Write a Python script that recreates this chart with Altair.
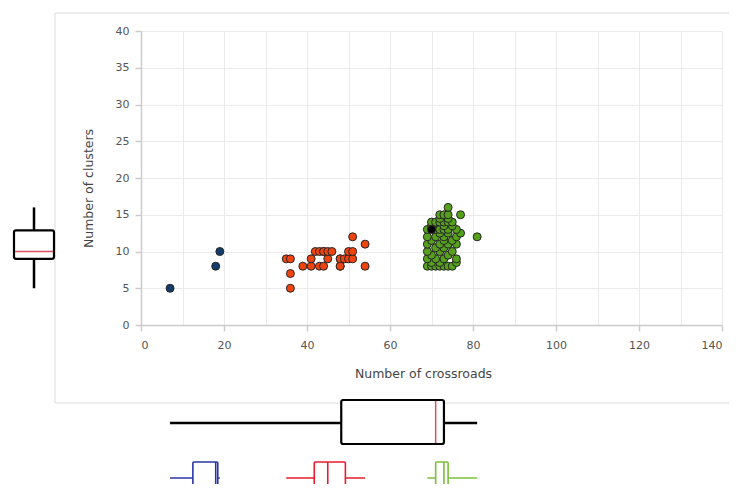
import altair as alt
import pandas as pd

# ---- data ----
blue_x = [7, 18, 19]
blue_y = [5, 8, 10]

red_x = [35, 36, 36, 36, 39, 41, 41, 42, 43, 43, 44, 44, 44, 45, 45, 46,
         48, 48, 48, 48, 49, 50, 50, 51, 51, 51, 54, 54]
red_y = [9, 9, 7, 5, 8, 8, 9, 10, 10, 8, 10, 10, 8, 9, 10, 10,
         9, 8, 9, 8, 9, 9, 10, 9, 10, 12, 11, 8]

green_x = [69, 70, 71, 72, 73, 74, 75,
           70, 72, 76,
           69, 71, 73, 76,
           70, 74,
           69, 72, 75,
           71, 73,
           69, 72, 74, 76,
           70, 73, 75,
           69, 71, 73, 76, 81,
           72, 74, 77,
           69, 71, 72, 73, 74, 76,
           70, 73, 75,
           70, 71, 72, 73, 74, 75,
           72, 74,
           72, 73, 74, 77,
           74]
green_y = [8, 8, 8, 8, 8, 8, 8,
           8.5, 8.5, 8.5,
           9, 9, 9, 9,
           9.5, 9.5,
           10, 10, 10,
           10.5, 10.5,
           11, 11, 11, 11,
           11.5, 11.5, 11.5,
           12, 12, 12, 12, 12,
           12.5, 12.5, 12.5,
           13, 13, 13, 13, 13, 13,
           13.5, 13.5, 13.5,
           14, 14, 14, 14, 14, 14,
           14.5, 14.5,
           15, 15, 15, 15,
           16]

highlight_x = [70]
highlight_y = [13]

x_ticks = [0, 10, 20, 30, 40, 50, 60, 70, 80, 90, 100, 110, 120, 130, 140]
y_ticks = [0, 5, 10, 15, 20, 25, 30, 35, 40]

groups = ["A", "B", "C"]
point_colors = ["#123d6a", "#ee4410", "#56a01c"]
box_colors = ["#2b35a8", "#e51d2e", "#7cbf3c"]

rows = []
for gx, gy, g in [(blue_x, blue_y, "A"), (red_x, red_y, "B"), (green_x, green_y, "C")]:
    for a, b in zip(gx, gy):
        rows.append({"x": a, "y": b, "group": g, "sel": False})
for a, b in zip(highlight_x, highlight_y):
    rows.append({"x": a, "y": b, "group": "C", "sel": True})
df = pd.DataFrame(rows)

FONT = "DejaVu Sans"
xs = alt.Scale(domain=[0, 140], nice=False, zero=False)
ys = alt.Scale(domain=[0, 40], nice=False, zero=False)

xaxis = alt.Axis(
    values=x_ticks,
    labelExpr="datum.value % 20 === 0 ? datum.label : ''",
    tickOpacity={"condition": {"test": "datum.value % 20 !== 0", "value": 0}, "value": 1},
    title="Number of crossroads",
    titleX=282, titleY=48, titleBaseline="middle", titleAlign="center",
    grid=True, tickSize=6, labelPadding=8,
)
yaxis = alt.Axis(
    values=y_ticks,
    title="Number of clusters",
    titleX=-53, titleY=157, titleBaseline="middle", titleAlign="center", titleAngle=-90,
    grid=True, tickSize=6, labelPadding=6,
)

base = alt.Chart(df)

border = alt.Chart(alt.Data(values=[{}])).mark_rect(
    fill="white", fillOpacity=0, stroke="#dcdcdc", strokeWidth=1
).encode(x=alt.value(-86), x2=alt.value(640), y=alt.value(-18), y2=alt.value(372))

points = base.mark_circle(size=64, opacity=1, stroke="#262626", strokeWidth=1).encode(
    x=alt.X("x:Q", scale=xs, axis=xaxis),
    y=alt.Y("y:Q", scale=ys, axis=yaxis),
    color=alt.condition(
        "datum.sel",
        alt.value("black"),
        alt.Color("group:N", scale=alt.Scale(domain=groups, range=point_colors), legend=None),
    ),
)

# overall box along x (below the plot)
allx = base.transform_aggregate(
    xmn="min(x)", xq1="q1(x)", xmed="median(x)", xq3="q3(x)", xmx="max(x)"
)
allx_whisk = allx.mark_rule(color="black", strokeWidth=2.5).encode(
    x=alt.X("xmn:Q", scale=xs, axis=xaxis), x2="xmx:Q", y=alt.value(392)
)
allx_box = allx.mark_rect(fill="white", stroke="black", strokeWidth=2.2, cornerRadius=2).encode(
    x=alt.X("xq1:Q", scale=xs, axis=xaxis), x2="xq3:Q", y=alt.value(369), y2=alt.value(413)
)
allx_med = allx.mark_rule(color="#d9505e", strokeWidth=1.5).encode(
    x=alt.X("xmed:Q", scale=xs, axis=xaxis), y=alt.value(370), y2=alt.value(412)
)

# per-group boxes along x
grp = base.transform_filter("!datum.sel").transform_aggregate(
    gmn="min(x)", gq1="q1(x)", gmed="median(x)", gq3="q3(x)", gmx="max(x)", groupby=["group"]
)
stroke_enc = alt.Stroke("group:N", scale=alt.Scale(domain=groups, range=box_colors), legend=None)
grp_whisk = grp.mark_rule(strokeWidth=1.6).encode(
    x=alt.X("gmn:Q", scale=xs, axis=xaxis), x2="gmx:Q", y=alt.value(447), stroke=stroke_enc
)
grp_box = grp.mark_rect(fill="white", strokeWidth=1.6, cornerRadius=1).encode(
    x=alt.X("gq1:Q", scale=xs, axis=xaxis), x2="gq3:Q", y=alt.value(431), y2=alt.value(480),
    stroke=stroke_enc,
)
grp_med = grp.mark_rule(strokeWidth=1.6).encode(
    x=alt.X("gmed:Q", scale=xs, axis=xaxis), y=alt.value(431), y2=alt.value(480), stroke=stroke_enc
)

# overall box along y (left of the plot)
ally = base.transform_aggregate(
    ymn="min(y)", yq1="q1(y)", ymed="median(y)", yq3="q3(y)", ymx="max(y)"
)
ally_whisk = ally.mark_rule(color="black", strokeWidth=2.5).encode(
    y=alt.Y("ymn:Q", scale=ys, axis=yaxis), y2="ymx:Q", x=alt.value(-107)
)
ally_box = ally.mark_rect(fill="white", stroke="black", strokeWidth=2.2, cornerRadius=2).encode(
    y=alt.Y("yq1:Q", scale=ys, axis=yaxis), y2="yq3:Q", x=alt.value(-127), x2=alt.value(-87)
)
ally_med = ally.mark_rule(color="#d9505e", strokeWidth=1.5).encode(
    y=alt.Y("ymed:Q", scale=ys, axis=yaxis), x=alt.value(-126), x2=alt.value(-88)
)

chart = alt.layer(
    border, points,
    allx_whisk, allx_box, allx_med,
    grp_whisk, grp_box, grp_med,
    ally_whisk, ally_box, ally_med,
).properties(
    width=581, height=294,
    autosize=alt.AutoSizeParams(type="none"),
    padding={"left": 133, "top": 23, "right": 7, "bottom": 159},
).configure_view(
    strokeWidth=0
).configure_axis(
    labelFont=FONT, labelFontSize=11, labelColor="#555555",
    titleFont=FONT, titleFontSize=12.5, titleFontWeight="normal", titleColor="#444444",
    domainColor="#cccccc", domainWidth=1.5, tickColor="#cccccc", tickWidth=1.5,
    gridColor="#ebebeb", gridWidth=1,
)

chart.save("out.html", embed_options={"renderer": "svg", "actions": False})
